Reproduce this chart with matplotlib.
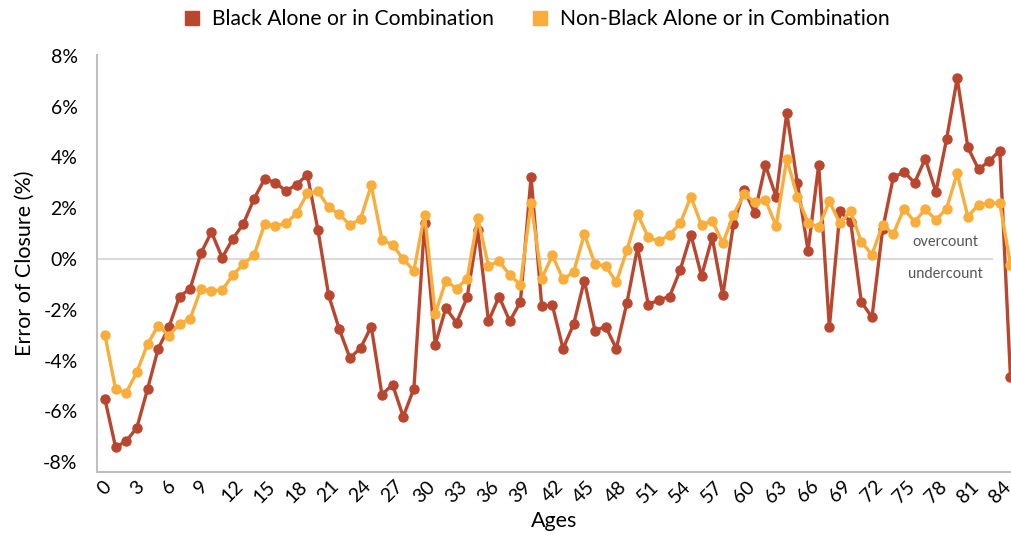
import matplotlib
matplotlib.use("Agg")
import matplotlib.pyplot as plt
from matplotlib.lines import Line2D


# --------------------------------------------------
# Data (error of closure in %, ages 0-85)
# --------------------------------------------------

ages = list(range(0, 86))

black = [
    -5.52, -7.41, -7.17, -6.64, -5.12, -3.53, -2.69, -1.48, -1.17, 0.22,
    1.06, 0.05, 0.79, 1.39, 2.37, 3.16, 3.00, 2.68, 2.93, 3.32,
    1.13, -1.43, -2.77, -3.90, -3.50, -2.66, -5.34, -4.95, -6.21, -5.10,
    1.40, -3.37, -1.93, -2.51, -1.51, 1.14, -2.45, -1.48, -2.45, -1.69,
    3.24, -1.85, -1.82, -3.53, -2.56, -0.85, -2.82, -2.66, -3.53, -1.72,
    0.46, -1.80, -1.61, -1.48, -0.43, 0.96, -0.67, 0.85, -1.43, 1.38,
    2.72, 1.82, 3.69, 2.45, 5.75, 2.98, 0.33, 3.71, -2.69, 1.88,
    1.46, -1.69, -2.30, 1.17, 3.21, 3.43, 3.00, 3.95, 2.64, 4.71,
    7.11, 4.40, 3.53, 3.85, 4.27, -4.66,
]

non_black = [
    -3.00, -5.13, -5.26, -4.45, -3.35, -2.62, -3.02, -2.55, -2.35, -1.19,
    -1.25, -1.23, -0.63, -0.20, 0.15, 1.39, 1.31, 1.40, 1.81, 2.58,
    2.66, 2.03, 1.77, 1.33, 1.59, 2.90, 0.75, 0.56, -0.01, -0.46,
    1.75, -2.17, -0.85, -1.17, -0.77, 1.61, -0.28, -0.07, -0.64, -1.01,
    2.22, -0.77, 0.14, -0.80, -0.51, 0.98, -0.20, -0.28, -0.91, 0.35,
    1.77, 0.85, 0.70, 0.96, 1.40, 2.45, 1.33, 1.51, 0.62, 1.75,
    2.56, 2.24, 2.32, 1.30, 3.94, 2.45, 1.43, 1.25, 2.27, 1.40,
    1.88, 0.67, 0.17, 1.35, 0.98, 1.98, 1.46, 1.96, 1.54, 1.98,
    3.37, 1.67, 2.14, 2.22, 2.19, -0.22,
]

yticks = [-8, -6, -4, -2, 0, 2, 4, 6, 8]
xticks = list(range(0, 85, 3))

RED = "#B9472F"
GOLD = "#F9AE3C"


def main():

    plt.rcParams["font.family"] = ["Lato", "DejaVu Sans"]

    fig = plt.figure(figsize=(10.11, 5.42), dpi=100)
    ax = fig.add_axes([0.0959, 0.129, 0.9041, 0.7695])

    ax.plot(ages, black, color=RED, linewidth=2.4, marker="o",
            markersize=6.5, zorder=3)
    ax.plot(ages, non_black, color=GOLD, linewidth=2.4, marker="o",
            markersize=6.5, zorder=4)

    # zero reference line
    ax.plot([-0.75, 83.3], [0, 0], color="#DADADA", linewidth=1.5, zorder=1)
    ax.text(78.9, 0.68, "overcount", color="#555555", fontsize=10.5,
            ha="center", va="center")
    ax.text(78.9, -0.6, "undercount", color="#555555", fontsize=10.5,
            ha="center", va="center")

    ax.set_xlim(-0.75, 85.05)
    ax.set_ylim(-8.39, 8.03)

    ax.set_yticks(yticks)
    ax.set_yticklabels([f"{t}%" for t in yticks], fontsize=14)
    ax.set_xticks(xticks)
    ax.set_xticklabels([str(t) for t in xticks], fontsize=14, rotation=45,
                       ha="center", va="top")
    ax.tick_params(axis="both", length=0)
    ax.tick_params(axis="y", pad=14)
    ax.tick_params(axis="x", pad=4)

    for side in ["top", "right"]:
        ax.spines[side].set_visible(False)
    for side in ["left", "bottom"]:
        ax.spines[side].set_color("#BFBFBF")
        ax.spines[side].set_linewidth(1.5)

    ax.set_xlabel("Ages", fontsize=15.5, labelpad=4)
    ax.set_ylabel("Error of Closure (%)", fontsize=15.5, labelpad=6)

    handles = [
        Line2D([], [], color=RED, marker="s", linestyle="none", markersize=9.5),
        Line2D([], [], color=GOLD, marker="s", linestyle="none", markersize=9.5),
    ]
    fig.legend(handles, ["Black Alone or in Combination",
                         "Non-Black Alone or in Combination"],
               loc="center", bbox_to_anchor=(0.530, 0.965), ncol=2,
               frameon=False, fontsize=15.2, handlelength=1.0,
               handletextpad=0.43, columnspacing=1.7)

    fig.savefig("out.png", dpi=100)


if __name__ == "__main__":
    main()
